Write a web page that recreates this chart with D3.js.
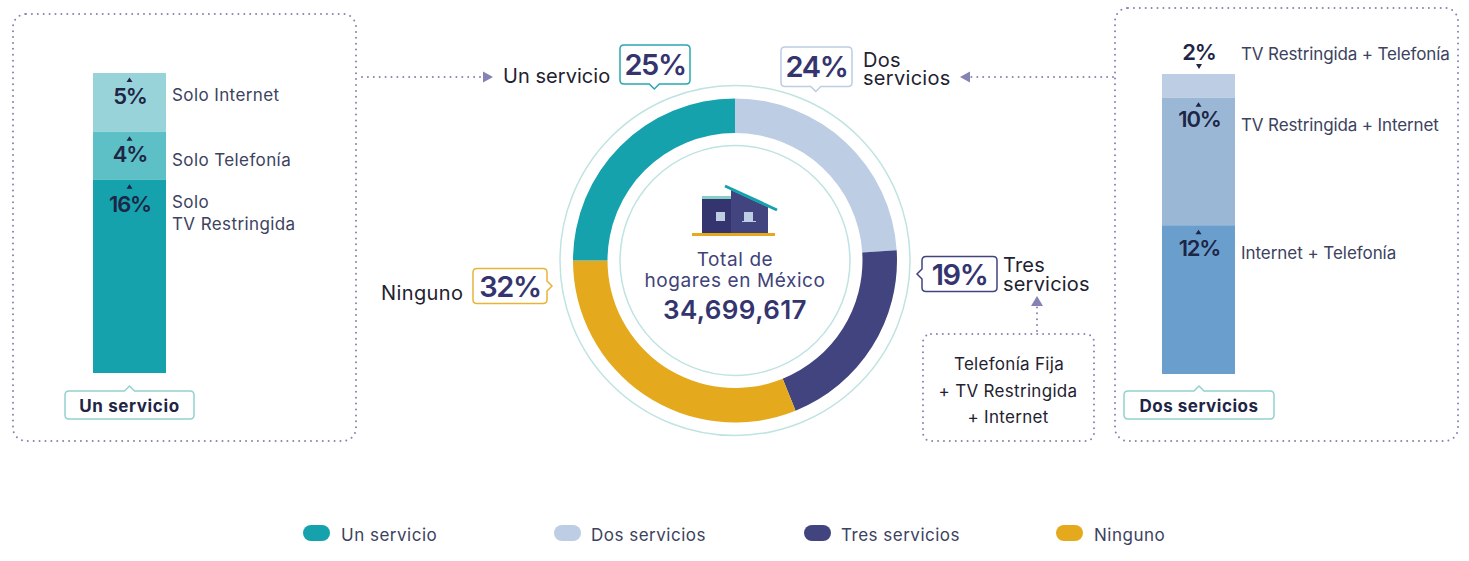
<!DOCTYPE html>
<html><head><meta charset="utf-8">
<script src="https://cdn.jsdelivr.net/npm/d3@7"></script>
<style>html,body{margin:0;padding:0;background:#fff}svg{display:block}text{font-family:Inter,"Noto Sans",sans-serif}</style>
</head><body><svg id="c" width="1469" height="561"></svg>
<script>
const categories=["Dos servicios","Tres servicios","Ninguno","Un servicio"];
const shares=[24.0,19.9,31.1,25.0];
const donutColors=["#bccde4","#41447e","#e4a91c","#15a2ad"];
const legendOrder=["Un servicio","Dos servicios","Tres servicios","Ninguno"];
const unValues=[4.9,4.0,16.1];
const unText=["5%","4%","16%"];
const unColors=["#98d3da","#5cc0c6","#15a2ad"];
const dosLabels=["TV Restringida + Telefonía","TV Restringida + Internet","Internet + Telefonía"];
const dosValues=[1.9,10.2,11.9];
const dosText=["2%","10%","12%"];
const dosColors=["#bccde4","#9ab8d6","#6a9fcd"];

const svg=d3.select("#c");
const dark="#1e2545",navy="#34346e",ink="#1f2230",grey="#3c4260",dot="#8583b3";
function T(x,y,s,size,fill,weight,anchor,ls){
  return svg.append("text").attr("x",x).attr("y",y).text(s).attr("font-size",size)
    .attr("fill",fill).attr("font-weight",weight||400).attr("text-anchor",anchor||"start")
    .attr("letter-spacing",ls||0);
}
function dotted(d){svg.append("path").attr("d",d).attr("fill","none").attr("stroke",dot)
  .attr("stroke-width",2).attr("stroke-linecap","round").attr("stroke-dasharray","0 5.9");}
function box(x,y,w,h,r){svg.append("rect").attr("x",x).attr("y",y).attr("width",w).attr("height",h).attr("rx",r)
  .attr("fill","none").attr("stroke",dot).attr("stroke-width",2).attr("stroke-linecap","round").attr("stroke-dasharray","0 5.9");}
function tri(pts,c){svg.append("path").attr("d","M"+pts.map(p=>p.join(",")).join("L")+"Z").attr("fill",c);}

// dotted containers and connectors
box(13,14,343,427,13);
box(1115,8,343,433,13);
box(923,334,171,107,8);
dotted("M362,77H484"); tri([[483,71.5],[493,77],[483,82.5]],dot);
dotted("M1113,77H971"); tri([[970,71.5],[960,77],[970,82.5]],dot);
dotted("M1037,331V307"); tri([[1031,306],[1037,296],[1043,306]],dot);

// stacked bars
function stack(x0,y0,total,vals,cols){
  const y=d3.scaleLinear().domain([0,total]).range([y0,y0+300]);
  let acc=0;const out=[];
  vals.forEach((v,i)=>{
    svg.append("rect").attr("x",x0).attr("width",73).attr("y",y(acc)).attr("height",y(acc+v)-y(acc)).attr("fill",cols[i]);
    out.push(y(acc));acc+=v;
  });
  return out;
}
const unTops=stack(93,73,d3.sum(unValues),unValues,unColors);
const dosTops=stack(1162,74,d3.sum(dosValues),dosValues,dosColors);
const unOffset=[30.5,30.5,32],dosOffset=[0,29.5,30.8];
unTops.forEach((t,i)=>{
  tri([[126.5,t+9],[129.5,t+4.5],[132.5,t+9]],dark);
  T(130,t+unOffset[i],unText[i],22,dark,600,"middle",-1.2);
});
dosTops.forEach((t,i)=>{
  if(i===0){tri([[1196,64],[1202,64],[1199,69]],dark);T(1199,t-14,dosText[i],22,dark,600,"middle",-1.2);}
  else{tri([[1195.5,t+9],[1198.5,t+4.5],[1201.5,t+9]],dark);T(1199.5,t+dosOffset[i],dosText[i],22,dark,600,"middle",-1.2);}
});
T(172,101,"Solo Internet",17,grey,400,"start",0.4);
T(172,166,"Solo Telefonía",17,grey,400,"start",0.4);
T(172,208,"Solo",17,grey,400,"start",0.4);
T(172,230,"TV Restringida",17,grey,400,"start",0.4);
T(1241,60,dosLabels[0],17,grey,400,"start",-0.13);
T(1241,131,dosLabels[1],17,grey,400,"start",-0.13);
T(1241,259,dosLabels[2],17,grey,400,"start",-0.05);

// bar tags
function tag(x,y,w,h,px,s,ls){
  const r=4;
  svg.append("path").attr("d",`M${x+r},${y}H${px-5}L${px},${y-5}L${px+5},${y}H${x+w-r}Q${x+w},${y} ${x+w},${y+r}V${y+h-r}Q${x+w},${y+h} ${x+w-r},${y+h}H${x+r}Q${x},${y+h} ${x},${y+h-r}V${y+r}Q${x},${y} ${x+r},${y}Z`)
   .attr("fill","#fff").attr("stroke","#93d2cf").attr("stroke-width",1.5);
  T(x+w/2,y+20.5,s,17,dark,700,"middle",ls);
}
tag(65,391,129,28,129.5,"Un servicio",0.6);
tag(1124,391,150,28,1199,"Dos servicios",0.5);

// donut
const cx=735,cy=260.5;
const ringG=svg.append("g").attr("transform",`translate(${cx},${cy})`);
[175,115].forEach(r=>ringG.append("circle").attr("r",r).attr("fill","none").attr("stroke","#bfe3e1").attr("stroke-width",1.5));
const pie=d3.pie().sort(null).value(d=>d)(shares);
const arc=d3.arc().innerRadius(127.5).outerRadius(162);
ringG.selectAll("path.s").data(pie).enter().append("path").attr("class","s").attr("d",arc).attr("fill",(d,i)=>donutColors[i]);

// callouts
function call(x,y,w,h,side,col,s){
  const r=4,x2=x+w,y2=y+h,m=x+w*0.49,my=y+h/2;let d=`M${x+r},${y}H${x2-r}Q${x2},${y} ${x2},${y+r}`;
  d+= side==="r"?`V${my-5}L${x2+5},${my}L${x2},${my+5}V${y2-r}`:`V${y2-r}`;
  d+=`Q${x2},${y2} ${x2-r},${y2}`;
  d+= side==="b"?`H${m+5}L${m},${y2+5}L${m-5},${y2}H${x+r}`:`H${x+r}`;
  d+=`Q${x},${y2} ${x},${y2-r}`;
  d+= side==="l"?`V${my+5}L${x-5},${my}L${x},${my-5}V${y+r}`:`V${y+r}`;
  d+=`Q${x},${y} ${x+r},${y}Z`;
  svg.append("path").attr("d",d).attr("fill","#fff").attr("stroke",col).attr("stroke-width",1.5);
  T(x+w/2,y+h/2+10.5,s,29,navy,600,"middle",-1.4);
}
call(620,45,70,39,"b","#2aa6b0","25%");
call(781,47,71,39.5,"b","#bccde4","24%");
call(922,256.5,75,35,"l","#41447e","19%");
call(473,268.5,74,35,"r","#e9b33a","32%");
T(503,83,"Un servicio",20,ink,400,"start",0.05);
T(863,67,"Dos",20,ink,400,"start",0.3);
T(863,85,"servicios",20,ink,400,"start",0.3);
T(1003,272,"Tres",20,ink,400,"start",0.2);
T(1003,291,"servicios",20,ink,400,"start",0.2);
T(381,299.5,"Ninguno",20,ink,400,"start",0.4);
T(1009,370,"Telefonía Fija",17,ink,400,"middle",0.3);
T(1008,397,"+ TV Restringida",17,ink,400,"middle",0.3);
T(1008,423,"+ Internet",17,ink,400,"middle",0.3);

// house
svg.append("rect").attr("x",702).attr("y",196).attr("width",29).attr("height",37).attr("fill","#34346e");
svg.append("rect").attr("x",702).attr("y",196).attr("width",29).attr("height",3).attr("fill","#84cfc8");
svg.append("path").attr("d","M731,190L768,207V233H731Z").attr("fill","#41447e");
svg.append("path").attr("d","M725,186L777,210").attr("stroke","#15a2ad").attr("stroke-width",3).attr("fill","none");
svg.append("rect").attr("x",716).attr("y",212).attr("width",9).attr("height",9).attr("fill","#bccde4");
svg.append("rect").attr("x",744).attr("y",212).attr("width",9).attr("height",9).attr("fill","#bccde4");
svg.append("rect").attr("x",742).attr("y",221).attr("width",14).attr("height",1).attr("fill","#bccde4");
svg.append("rect").attr("x",692).attr("y",233).attr("width",83).attr("height",3).attr("fill","#e4a91c");
T(735,266,"Total de",19,"#3f4379",400,"middle",0.6);
T(735,287,"hogares en México",19,"#3f4379",400,"middle",0.6);
T(735,319,"34,699,617",26,navy,600,"middle",0.4);

// legend
const legendX=[303,554,804,1056],legendTextX=[341,591,841,1094];
legendOrder.forEach((n,i)=>{
  svg.append("rect").attr("x",legendX[i]).attr("y",525).attr("width",27).attr("height",16).attr("rx",8).attr("fill",donutColors[categories.indexOf(n)]);
  T(legendTextX[i],541,n,17,grey,400,"start",0.5);
});
</script></body></html>
